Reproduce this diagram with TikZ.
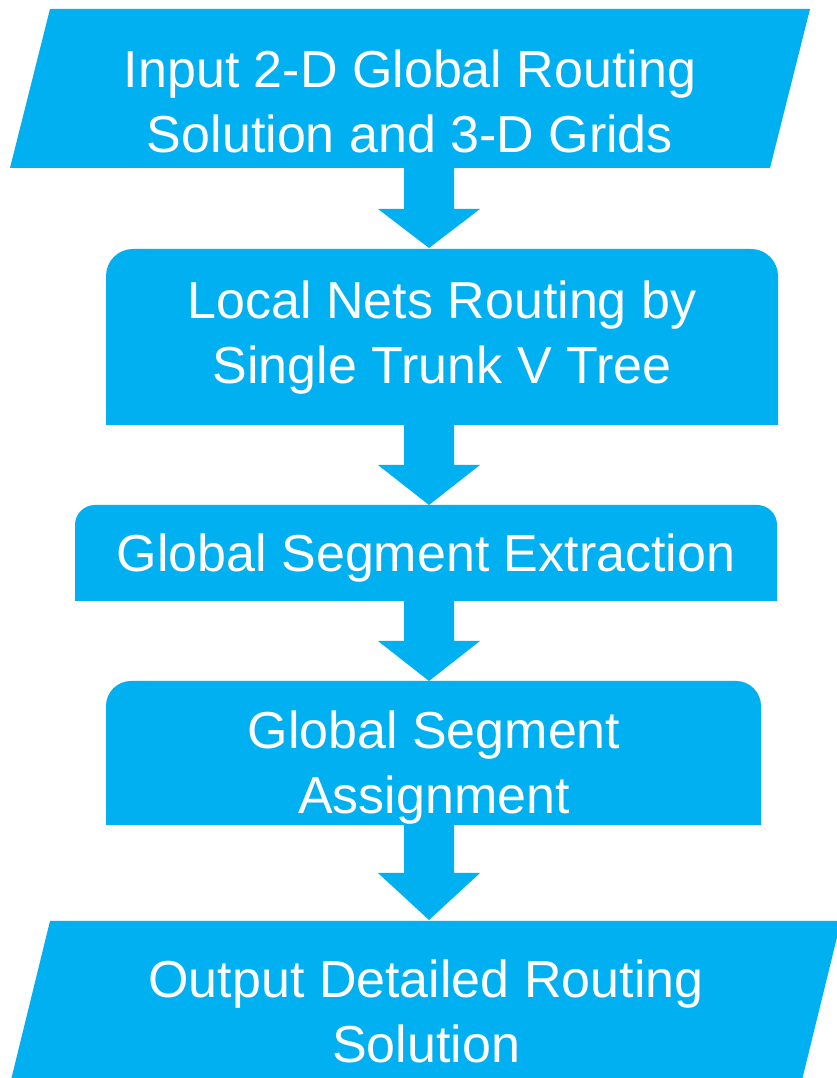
\documentclass[tikz,border=0pt]{standalone}
\usepackage{fontspec}
\setmainfont{Liberation Sans}
\usetikzlibrary{calc}
\definecolor{flowblue}{HTML}{00B0F0}

% block arrow from #1 down to #2, head of length #3
\newcommand\flowarrow[3]{%
  \fill[flow] let \p1=(#1), \p2=(#2) in
    (\x1-25pt,\y1) -- (\x1+25pt,\y1) -- (\x1+25pt,\y2+#3) -- (\x1+51pt,\y2+#3)
    -- (\x2,\y2) -- (\x1-51pt,\y2+#3) -- (\x1-25pt,\y2+#3) -- cycle;}

\begin{document}
\begin{tikzpicture}[x=1pt,y=1pt,
  flow/.style={fill=flowblue},
  boxtext/.style={text=white, font=\fontsize{52}{65}\selectfont,
    align=center, inner sep=0pt, anchor=base}]
\useasboundingbox (0,0) rectangle (837,1078);
\clip (0,0) rectangle (837,1078);

% input parallelogram
\fill[flow] (50,1069) -- (810,1069) -- (770,910) -- (10,910) -- cycle;
% step boxes, rounded on top only
\fill[flow] (106,653) -- (106,802) arc[start angle=180,end angle=90,radius=27]
  -- (751,829) arc[start angle=90,end angle=0,radius=27] -- (778,653) -- cycle;
\fill[flow] (75,477) -- (75,553) arc[start angle=180,end angle=90,radius=20]
  -- (757,573) arc[start angle=90,end angle=0,radius=20] -- (777,477) -- cycle;
\fill[flow] (106,253) -- (106,372) arc[start angle=180,end angle=90,radius=25]
  -- (736,397) arc[start angle=90,end angle=0,radius=25] -- (761,253) -- cycle;
% output parallelogram
\fill[flow] (50,157) -- (841,157) -- (802,-2) -- (11,-2) -- cycle;

% arrow ends
\coordinate (inB) at (429,910);   \coordinate (localT) at (429,830);
\coordinate (localB) at (429,653); \coordinate (extractT) at (429,573);
\coordinate (extractB) at (429,477); \coordinate (assignT) at (429,397);
\coordinate (assignB) at (429,253); \coordinate (outT) at (429,158);

\flowarrow{inB}{localT}{39pt}
\flowarrow{localB}{extractT}{40pt}
\flowarrow{extractB}{assignT}{40pt}
\flowarrow{assignB}{outT}{47pt}

% texts (anchored on the baseline of their last line)
\node[boxtext] (input) at (410,925) {Input 2-D Global Routing\\Solution and 3-D Grids};
\node[boxtext] (local) at (442,694) {Local Nets Routing by\\Single Trunk V Tree};
\node[boxtext] (extract) at (426,506) {Global Segment Extraction};
\node[boxtext] (assign) at (434,264) {Global Segment\\Assignment};
\node[boxtext] (output) at (426,15) {Output Detailed Routing\\Solution};
\end{tikzpicture}
\end{document}
